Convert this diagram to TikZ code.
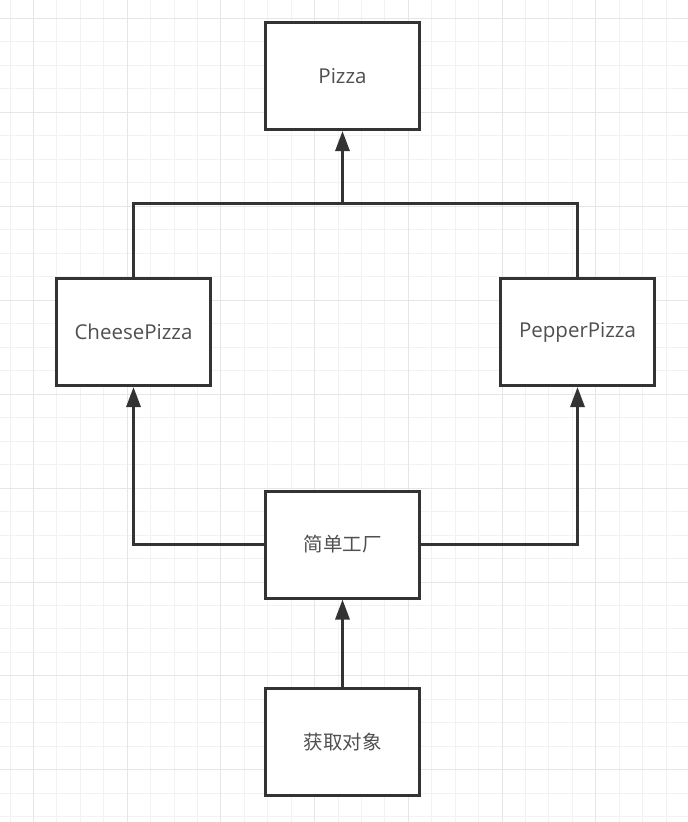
\documentclass[tikz,border=0pt]{standalone}
\usepackage{fontspec}
\setmainfont{Open Sans}
\newfontfamily\cjk{Noto Sans CJK SC}
\usetikzlibrary{arrows.meta}
\definecolor{gridminor}{HTML}{F2F2F2}
\definecolor{gridmajor}{HTML}{E6E6E6}
\definecolor{boxline}{HTML}{333333}
\definecolor{txt}{HTML}{505050}
\tikzset{
  box/.style={draw=boxline, line width=3pt, fill=white, minimum width=154pt, minimum height=107pt, inner sep=0pt, text=txt, font=\fontsize{20.5}{23}\selectfont},
  cbox/.style={box, font=\cjk\fontsize{19.5}{22}\selectfont},
  conn/.style={draw=boxline, line width=3pt},
  arr/.style={conn, -{Triangle[length=20pt,width=14pt]}}
}
\begin{document}
\begin{tikzpicture}[x=1pt,y=-1pt]
\useasboundingbox (0,0) rectangle (688,822);
\fill[white] (0,0) rectangle (688,822);
% grid
\foreach \k in {0,...,29} {
  \pgfmathsetmacro{\xx}{10+23.43*\k}
  \draw[gridminor, line width=1pt] (\xx,0) -- (\xx,822);
}
\foreach \k in {-1,...,34} {
  \pgfmathsetmacro{\yy}{18.5+23.48*\k}
  \draw[gridminor, line width=1pt] (0,\yy) -- (688,\yy);
}
\foreach \k in {0,...,7} {
  \pgfmathsetmacro{\xx}{33.43+93.72*\k}
  \draw[gridmajor, line width=1pt] (\xx,0) -- (\xx,822);
}
\foreach \k in {0,...,8} {
  \pgfmathsetmacro{\yy}{18.5+93.92*\k}
  \draw[gridmajor, line width=1pt] (0,\yy) -- (688,\yy);
}
% nodes
\node[box] (pizza) at (342.5,76) {Pizza};
\node[box] (cheese) at (133.5,332) {CheesePizza};
\node[box] (pepper) at (577.5,332) {PepperPizza};
\node[cbox] (factory) at (342.5,544.5) {简单工厂};
\node[cbox] (get) at (342.5,742) {获取对象};
\coordinate (j) at (342.5,203);
% connectors
\draw[conn] (cheese.north) |- (j) -| (pepper.north);
\draw[arr] (j) -- (pizza.south);
\draw[arr] (factory.west) -| (cheese.south);
\draw[arr] (factory.east) -| (pepper.south);
\draw[arr] (get.north) -- (factory.south);
\end{tikzpicture}
\end{document}
